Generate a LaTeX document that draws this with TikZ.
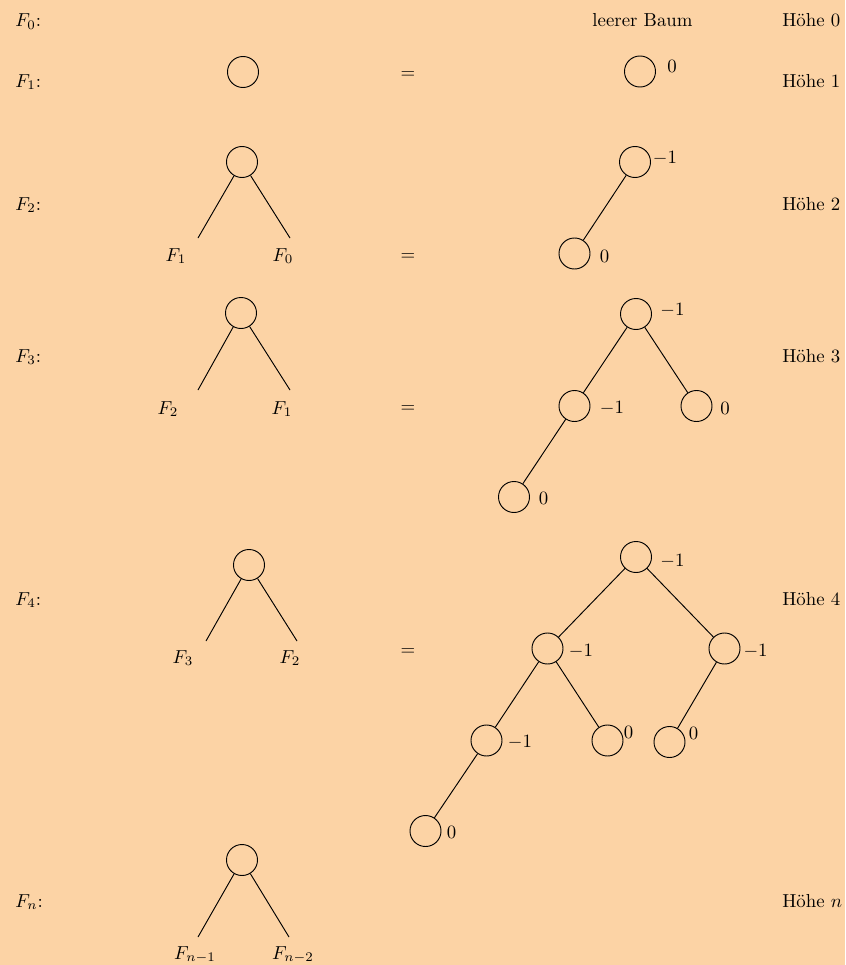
\documentclass[tikz,border=0pt]{standalone}
\definecolor{peach}{RGB}{252,211,165}
\begin{document}
\begin{tikzpicture}[x=0.532pt,y=-0.532pt,
  knot/.style={circle,draw,minimum size=16.5pt,inner sep=0pt,line width=0.5pt},
  bal/.style={inner sep=0pt},
  link/.style={line width=0.5pt},
  rowlabel/.style={anchor=base west,inner sep=0pt},
  sublabel/.style={anchor=base,inner sep=0pt}]
\fill[peach] (0,0) rectangle (845,965);
\useasboundingbox (0,0) rectangle (845,965);

% row labels on the left
\node[rowlabel] (r0) at (15,27)  {$F_0$:};
\node[rowlabel] (r1) at (15,87)  {$F_1$:};
\node[rowlabel] (r2) at (15,210) {$F_2$:};
\node[rowlabel] (r3) at (15,362) {$F_3$:};
\node[rowlabel] (r4) at (15,605) {$F_4$:};
\node[rowlabel] (rn) at (15,907) {$F_n$:};

% heights on the right
\node[rowlabel] (h0) at (782,27)  {Höhe 0};
\node[rowlabel] (h1) at (782,87)  {Höhe 1};
\node[rowlabel] (h2) at (782,210) {Höhe 2};
\node[rowlabel] (h3) at (782,362) {Höhe 3};
\node[rowlabel] (h4) at (782,605) {Höhe 4};
\node[rowlabel] (hn) at (782,907) {Höhe $n$};

\node[sublabel] (empty) at (642.5,27) {leerer Baum};

% equals signs
\node[bal] (eq1) at (408,75)  {$=$};
\node[bal] (eq2) at (408,257) {$=$};
\node[bal] (eq3) at (408,409) {$=$};
\node[bal] (eq4) at (408,652) {$=$};

% recursive definitions (left column)
\node[knot] (a1) at (243,72) {};

\node[knot] (a2) at (242,162) {};
\coordinate (a2l) at (198,238);
\coordinate (a2r) at (290,238);
\draw[link] (a2) -- (a2l);
\draw[link] (a2) -- (a2r);
\node[sublabel] (a2lt) at (176,261) {$F_1$};
\node[sublabel] (a2rt) at (283,261) {$F_0$};

\node[knot] (a3) at (241,313) {};
\coordinate (a3l) at (198,390);
\coordinate (a3r) at (290,390);
\draw[link] (a3) -- (a3l);
\draw[link] (a3) -- (a3r);
\node[sublabel] (a3lt) at (168,414) {$F_2$};
\node[sublabel] (a3rt) at (282,414) {$F_1$};

\node[knot] (a4) at (249,565) {};
\coordinate (a4l) at (206,641);
\coordinate (a4r) at (297,641);
\draw[link] (a4) -- (a4l);
\draw[link] (a4) -- (a4r);
\node[sublabel] (a4lt) at (183,663) {$F_3$};
\node[sublabel] (a4rt) at (290,663) {$F_2$};

\node[knot] (an) at (242,860) {};
\coordinate (anl) at (198,937);
\coordinate (anr) at (289,937);
\draw[link] (an) -- (anl);
\draw[link] (an) -- (anr);
\node[sublabel] (anlt) at (195,959) {$F_{n-1}$};
\node[sublabel] (anrt) at (293,959) {$F_{n-2}$};

% explicit trees with balance factors (right column)
\node[knot] (b1) at (640,71.5) {};
\node[bal] at (672,66.5) {$0$};

\node[knot] (c1) at (635,162) {};
\node[knot] (c2) at (574.5,253.5) {};
\draw[link] (c1) -- (c2);
\node[bal] at (665,158.5) {$-1$};
\node[bal] at (604.5,256.5) {$0$};

\node[knot] (d1) at (636,314) {};
\node[knot] (d2) at (574.5,406) {};
\node[knot] (d3) at (696.5,406) {};
\node[knot] (d4) at (514,497) {};
\draw[link] (d1) -- (d2);
\draw[link] (d1) -- (d3);
\draw[link] (d2) -- (d4);
\node[bal] at (672.5,310) {$-1$};
\node[bal] at (612,408.5) {$-1$};
\node[bal] at (725,408.5) {$0$};
\node[bal] at (543.5,498.5) {$0$};

\node[knot] (e1) at (636,557) {};
\node[knot] (e2) at (547.5,648.5) {};
\node[knot] (e3) at (724.5,648.5) {};
\node[knot] (e4) at (486.5,740.5) {};
\node[knot] (e5) at (607.5,740.5) {};
\node[knot] (e6) at (669.5,742) {};
\node[knot] (e7) at (425.5,831) {};
\draw[link] (e1) -- (e2);
\draw[link] (e1) -- (e3);
\draw[link] (e2) -- (e4);
\draw[link] (e2) -- (e5);
\draw[link] (e3) -- (e6);
\draw[link] (e4) -- (e7);
\node[bal] at (672.5,561) {$-1$};
\node[bal] at (581,651) {$-1$};
\node[bal] at (755.5,651) {$-1$};
\node[bal] at (520,742.5) {$-1$};
\node[bal] at (628.5,732.5) {$0$};
\node[bal] at (693.5,733.5) {$0$};
\node[bal] at (451.5,832.5) {$0$};
\end{tikzpicture}
\end{document}
